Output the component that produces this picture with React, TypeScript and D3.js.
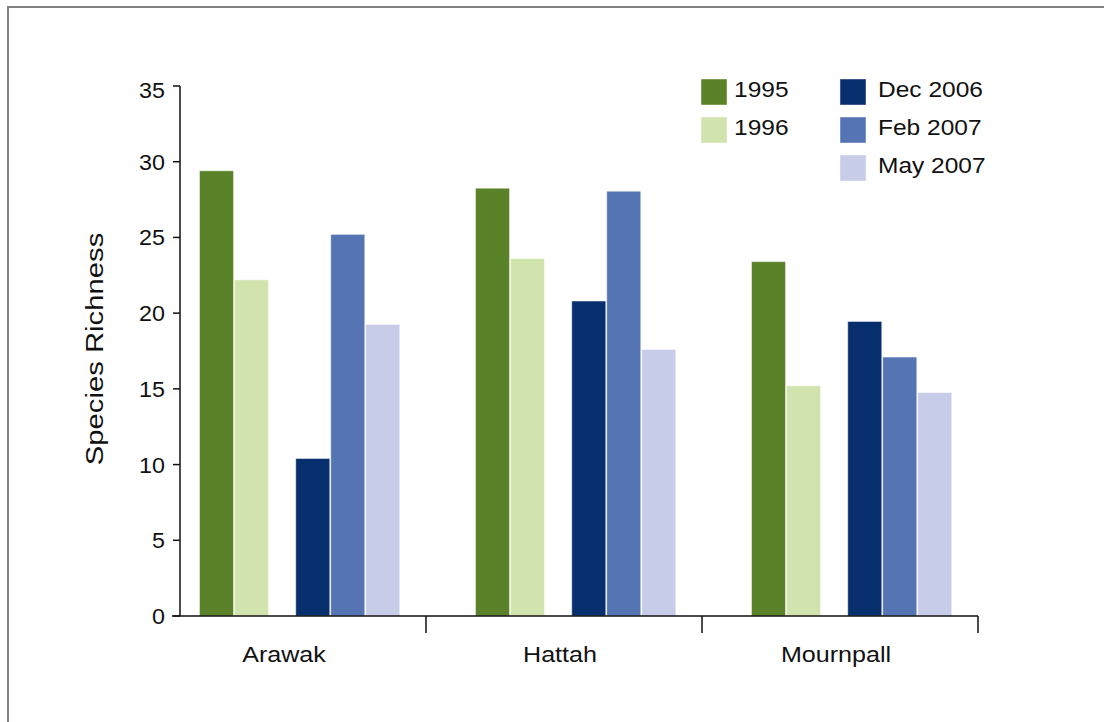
import React, { useEffect, useRef } from 'react';
import * as d3 from 'd3';

const width = 1104;
const height = 722;

const sites = ['Arawak', 'Hattah', 'Mournpall'];
const seriesNames = ['1995', '1996', 'Dec 2006', 'Feb 2007', 'May 2007'];
const seriesColors = ['#5a8229', '#d1e4ae', '#072e6d', '#5574b3', '#c7cce8'];
const v1995 = [29.4, 28.25, 23.4];
const v1996 = [22.2, 23.6, 15.2];
const vDec2006 = [10.4, 20.8, 19.45];
const vFeb2007 = [25.2, 28.05, 17.1];
const vMay2007 = [19.25, 17.6, 14.75];
const yTicks = [0, 5, 10, 15, 20, 25, 30, 35];

const seriesValues = [v1995, v1996, vDec2006, vFeb2007, vMay2007];
// slot index of each series inside a site group (gap between surveys)
const slots = [0, 1, 2.75, 3.75, 4.75];

const FONT = "'Liberation Sans', Arial, sans-serif";

const App: React.FC = () => {
  const ref = useRef<SVGSVGElement>(null);

  useEffect(() => {
    if (!ref.current) return;
    const svg = d3.select(ref.current);
    svg.selectAll('*').remove();

    // text is a bit wider than plain Arial in the original
    const label = (
      parent: d3.Selection<any, any, any, any>,
      tx: number,
      ty: number,
      txt: string,
      size: number,
      stretch: number,
      anchor: string,
      rotate = 0
    ) =>
      parent
        .append('text')
        .attr('transform', `translate(${tx},${ty}) rotate(${rotate}) scale(${stretch},1)`)
        .attr('text-anchor', anchor)
        .attr('font-family', FONT)
        .attr('font-size', size)
        .attr('fill', '#111')
        .text(txt);

    // frame
    svg
      .append('rect')
      .attr('x', 8)
      .attr('y', 7)
      .attr('width', width + 10)
      .attr('height', height + 10)
      .attr('fill', 'none')
      .attr('stroke', '#808080')
      .attr('stroke-width', 2);

    const y = d3.scaleLinear().domain([0, 35]).range([616, 86]);
    const x = d3.scaleBand<string>().domain(sites).range([150, 978]);
    const inner = d3.scaleLinear().domain([0, 1]).range([0, 35]);
    const groupStart = 49.5;
    const barW = 34;

    // bars
    seriesValues.forEach((vals, si) => {
      svg
        .append('g')
        .selectAll('rect')
        .data(vals)
        .enter()
        .append('rect')
        .attr('x', (_, i) => (x(sites[i]) as number) + groupStart + inner(slots[si]))
        .attr('y', d => y(d))
        .attr('width', barW)
        .attr('height', d => y(0) - y(d))
        .attr('fill', seriesColors[si])
        .attr('stroke', '#ffffff')
        .attr('stroke-opacity', 0.45)
        .attr('stroke-width', 1);
    });

    const axisColor = '#111';

    // y axis
    svg
      .append('line')
      .attr('x1', 180)
      .attr('x2', 180)
      .attr('y1', y(35))
      .attr('y2', y(0))
      .attr('stroke', axisColor)
      .attr('stroke-width', 1.5);

    const yAxis = svg.append('g');
    yTicks.forEach(t => {
      yAxis
        .append('line')
        .attr('x1', 173)
        .attr('x2', 180)
        .attr('y1', y(t))
        .attr('y2', y(t))
        .attr('stroke', axisColor)
        .attr('stroke-width', 1.5);
      label(yAxis, 165, y(t) + (t === 35 ? 12 : 8), String(t), 22, 1.06, 'end');
    });

    // x axis
    svg
      .append('line')
      .attr('x1', 172)
      .attr('x2', 978)
      .attr('y1', y(0))
      .attr('y2', y(0))
      .attr('stroke', axisColor)
      .attr('stroke-width', 1.5);

    const xAxis = svg.append('g');
    sites.forEach(s => {
      const x0 = x(s) as number;
      xAxis
        .append('line')
        .attr('x1', x0 + x.bandwidth())
        .attr('x2', x0 + x.bandwidth())
        .attr('y1', y(0))
        .attr('y2', y(0) + 17)
        .attr('stroke', axisColor)
        .attr('stroke-width', 1.5);
      label(xAxis, x0 + x.bandwidth() / 2 - 4, 662, s, 22, 1.14, 'middle');
    });

    // y label
    label(svg, 103, 349, 'Species Richness', 24, 1.22, 'middle', -90);

    // legend
    const legend = svg.append('g');
    seriesNames.forEach((name, i) => {
      const lx = i < 2 ? 701 : 840;
      const ly = 79 + (i < 2 ? i : i - 2) * 38;
      legend
        .append('rect')
        .attr('x', lx)
        .attr('y', ly)
        .attr('width', 26)
        .attr('height', 26)
        .attr('fill', seriesColors[i])
        .attr('stroke', '#ffffff')
        .attr('stroke-opacity', 0.45);
      label(legend, lx + (i < 2 ? 33 : 38), ly + 18, name, 21.5, 1.14, 'start');
    });
  }, []);

  return (
    <svg
      ref={ref}
      width={width}
      height={height}
      style={{ position: 'absolute', top: 0, left: 0, background: '#fff' }}
    />
  );
};

export default App;
